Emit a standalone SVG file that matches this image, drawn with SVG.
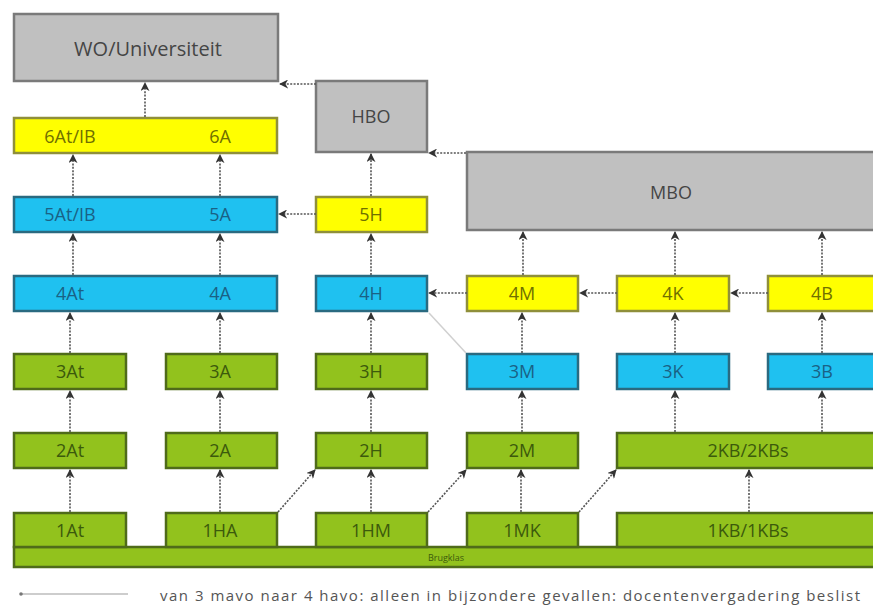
<svg xmlns="http://www.w3.org/2000/svg" width="873" height="608" viewBox="0 0 873 608">
<style>
.g rect{fill:#c0c0c0;stroke:#7a7a7a;stroke-width:2.5}
.y rect{fill:#ffff00;stroke:#8f8f3a;stroke-width:2.5}
.c rect{fill:#1fc1f0;stroke:#2a6a80;stroke-width:2.5}
.n rect{fill:#92c21d;stroke:#4f6b1a;stroke-width:2.5}
text{font-family:"Open Sans","DejaVu Sans",sans-serif;font-size:18px;text-anchor:middle;dominant-baseline:central}
.g text{fill:#454545}
.y text{fill:#707000}
.c text{fill:#1a6185}
.n text{fill:#3c5a0c}
.a{stroke:#555;stroke-width:1.6;stroke-dasharray:2 1.4;fill:none;marker-end:url(#ah)}
</style>
<defs>
<marker id="ah" viewBox="0 0 10 10" refX="9" refY="5" markerWidth="9" markerHeight="9" markerUnits="userSpaceOnUse" orient="auto">
<path d="M0,0 L10,5 L0,10 L3,5 Z" fill="#333"/>
</marker>
</defs>
<rect width="873" height="608" fill="#fff"/>

<g id="wo" class="g"><rect x="14" y="14" width="264" height="67"/><text x="148" y="48" style="font-size:20px">WO/Universiteit</text></g>
<g id="hbo" class="g"><rect x="316" y="81" width="111" height="71"/><text x="371" y="116">HBO</text></g>
<g id="mbo" class="g"><rect x="467" y="152" width="412" height="78"/><text x="671" y="192">MBO</text></g>

<g id="r6a" class="y"><rect x="14" y="118" width="263" height="35"/><text x="70" y="136">6At/IB</text><text x="220" y="136">6A</text></g>
<g id="r5a" class="c"><rect x="14" y="197" width="263" height="35"/><text x="70" y="214">5At/IB</text><text x="220" y="214">5A</text></g>
<g id="h5" class="y"><rect x="316" y="197" width="111" height="35"/><text x="371" y="214">5H</text></g>

<g id="r4a" class="c"><rect x="14" y="276" width="263" height="35"/><text x="70" y="293">4At</text><text x="220" y="293">4A</text></g>
<g id="h4" class="c"><rect x="316" y="276" width="111" height="35"/><text x="371" y="293">4H</text></g>
<g id="m4" class="y"><rect x="467" y="276" width="111" height="35"/><text x="522" y="293">4M</text></g>
<g id="k4" class="y"><rect x="617" y="276" width="112" height="35"/><text x="673" y="293">4K</text></g>
<g id="b4" class="y"><rect x="768" y="276" width="111" height="35"/><text x="822" y="293">4B</text></g>

<g id="at3" class="n"><rect x="14" y="354" width="112" height="35"/><text x="70" y="371">3At</text></g>
<g id="a3" class="n"><rect x="166" y="354" width="111" height="35"/><text x="220" y="371">3A</text></g>
<g id="h3" class="n"><rect x="316" y="354" width="111" height="35"/><text x="371" y="371">3H</text></g>
<g id="m3" class="c"><rect x="467" y="354" width="111" height="35"/><text x="522" y="371">3M</text></g>
<g id="k3" class="c"><rect x="617" y="354" width="112" height="35"/><text x="673" y="371">3K</text></g>
<g id="b3" class="c"><rect x="768" y="354" width="111" height="35"/><text x="822" y="371">3B</text></g>

<g id="at2" class="n"><rect x="14" y="433" width="112" height="35"/><text x="70" y="450">2At</text></g>
<g id="a2" class="n"><rect x="166" y="433" width="111" height="35"/><text x="220" y="450">2A</text></g>
<g id="h2" class="n"><rect x="316" y="433" width="111" height="35"/><text x="371" y="450">2H</text></g>
<g id="m2" class="n"><rect x="467" y="433" width="111" height="35"/><text x="522" y="450">2M</text></g>
<g id="kb2" class="n"><rect x="617" y="433" width="262" height="35"/><text x="748" y="450">2KB/2KBs</text></g>

<g id="brug" class="n"><rect x="14" y="547" width="865" height="20"/><text x="446" y="557" style="font-size:9px">Brugklas</text></g>
<g id="at1" class="n"><rect x="14" y="513" width="112" height="34"/><text x="70" y="530">1At</text></g>
<g id="ha1" class="n"><rect x="166" y="513" width="111" height="34"/><text x="220" y="530">1HA</text></g>
<g id="hm1" class="n"><rect x="316" y="513" width="111" height="34"/><text x="371" y="530">1HM</text></g>
<g id="mk1" class="n"><rect x="467" y="513" width="111" height="34"/><text x="522" y="530">1MK</text></g>
<g id="kb1" class="n"><rect x="617" y="513" width="262" height="34"/><text x="748" y="530">1KB/1KBs</text></g>

<g id="connectors">
<path class="a" d="M145,117 V83"/>
<path class="a" d="M316,84 H280"/>
<path class="a" d="M466,153 H429"/>
<path class="a" d="M73,196 V155"/>
<path class="a" d="M220,196 V155"/>
<path class="a" d="M371,196 V154"/>
<path class="a" d="M316,214 H279"/>
<path class="a" d="M73,275 V234"/>
<path class="a" d="M220,275 V234"/>
<path class="a" d="M371,275 V234"/>
<path class="a" d="M523,275 V232"/>
<path class="a" d="M675,275 V232"/>
<path class="a" d="M822,275 V232"/>
<path class="a" d="M467,293 H429"/>
<path class="a" d="M617,293 H580"/>
<path class="a" d="M768,293 H731"/>
<path class="a" d="M70,353 V313"/>
<path class="a" d="M220,353 V313"/>
<path class="a" d="M371,353 V313"/>
<path class="a" d="M522,353 V313"/>
<path class="a" d="M675,353 V313"/>
<path class="a" d="M822,353 V313"/>
<path class="a" d="M70,432 V391"/>
<path class="a" d="M220,432 V391"/>
<path class="a" d="M371,432 V391"/>
<path class="a" d="M522,432 V391"/>
<path class="a" d="M675,432 V391"/>
<path class="a" d="M822,432 V391"/>
<path class="a" d="M70,512 V470"/>
<path class="a" d="M220,512 V470"/>
<path class="a" d="M371,512 V470"/>
<path class="a" d="M521,512 V470"/>
<path class="a" d="M749,512 V470"/>
<path class="a" d="M278,512 L315,470"/>
<path class="a" d="M428,512 L466,470"/>
<path class="a" d="M579,512 L616,470"/>
<path d="M466,353 L429,313" stroke="#d0d0d0" stroke-width="1.5" fill="none"/>
</g>

<g id="legend">
<line x1="20" y1="594" x2="128" y2="594" stroke="#bdbdbd" stroke-width="1.5"/>
<circle cx="21" cy="594" r="1.8" fill="#777"/>
<text x="160" y="595" textLength="700" lengthAdjust="spacing" style="font-size:15px;text-anchor:start;fill:#555">van 3 mavo naar 4 havo: alleen in bijzondere gevallen: docentenvergadering beslist</text>
</g>
</svg>
